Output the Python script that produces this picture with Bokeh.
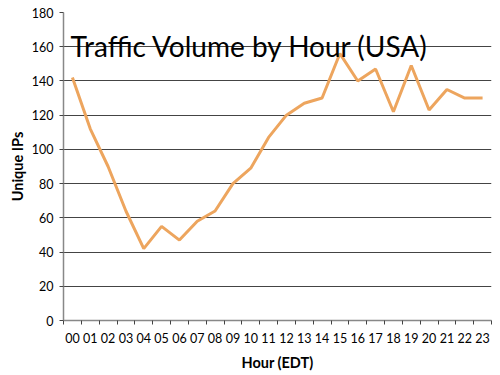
from bokeh.plotting import figure
from bokeh.models import Range1d, FixedTicker, Label
from bokeh.embed import file_html
from bokeh.resources import INLINE

hours = list(range(24))
hour_labels = ["%02d" % h for h in hours]
unique_ips = [142, 112, 90, 64, 42, 55, 47, 58, 64, 80, 89, 107,
              120, 127, 130, 156, 140, 147, 122, 149, 123, 135, 130, 130]
y_ticks = [0, 20, 40, 60, 80, 100, 120, 140, 160, 180]
title_text = "Traffic Volume by Hour (USA)"
x_title = "Hour (EDT)"
y_title = "Unique IPs"

FONT = "Lato"

p = figure(width=500, height=375, output_backend="svg", toolbar_location=None,
           x_range=Range1d(-0.5, 23.5), y_range=Range1d(0, 180),
           min_border_left=63, min_border_right=9, min_border_top=12, min_border_bottom=55)
p.outline_line_color = None
p.background_fill_color = "white"
p.border_fill_color = "white"

p.line(hours, unique_ips, line_color="#EDA55E", line_width=3)

# x axis
p.xaxis.ticker = FixedTicker(ticks=hours, minor_ticks=[h - 0.5 for h in hours] + [23.5])
p.xaxis.major_label_overrides = {h: lab for h, lab in zip(hours, hour_labels)}
p.xaxis.major_tick_out = 0
p.xaxis.major_tick_in = 0
p.xaxis.minor_tick_out = 4
p.xaxis.minor_tick_in = 0
p.xaxis.minor_tick_line_color = "#444444"
p.xaxis.axis_line_color = "#888888"
p.xaxis.axis_line_width = 1.5
p.xaxis.major_label_standoff = 8
p.xaxis.major_label_text_font = FONT
p.xaxis.major_label_text_font_size = "12.5px"
p.xaxis.major_label_text_color = "black"
p.xaxis.axis_label = x_title
p.xaxis.axis_label_text_font = FONT
p.xaxis.axis_label_text_font_size = "14.5px"
p.xaxis.axis_label_text_font_style = "bold"
p.xaxis.axis_label_standoff = 8
p.xaxis.axis_label_text_color = "black"

# y axis
p.yaxis.ticker = FixedTicker(ticks=y_ticks, minor_ticks=[])
p.yaxis.major_tick_out = 4
p.yaxis.major_tick_in = 0
p.yaxis.major_tick_line_color = "#444444"
p.yaxis.axis_line_color = "#888888"
p.yaxis.axis_line_width = 1.5
p.yaxis.major_label_standoff = 6
p.yaxis.major_label_text_font = FONT
p.yaxis.major_label_text_font_size = "12.5px"
p.yaxis.major_label_text_color = "black"
p.yaxis.axis_label = y_title
p.yaxis.axis_label_text_font = FONT
p.yaxis.axis_label_text_font_size = "14.5px"
p.yaxis.axis_label_text_font_style = "bold"
p.yaxis.axis_label_standoff = 3
p.yaxis.axis_label_text_color = "black"

p.xgrid.grid_line_color = None
p.ygrid.grid_line_color = "#444444"
p.ygrid.grid_line_width = 1.2

title = Label(x=-0.5, y=180, x_offset=7, y_offset=-33, text=title_text,
              text_font=FONT, text_font_size="28px", text_color="black",
              text_baseline="alphabetic", text_align="left")
p.add_layout(title)

open("out.html", "w").write(file_html(p, INLINE))
